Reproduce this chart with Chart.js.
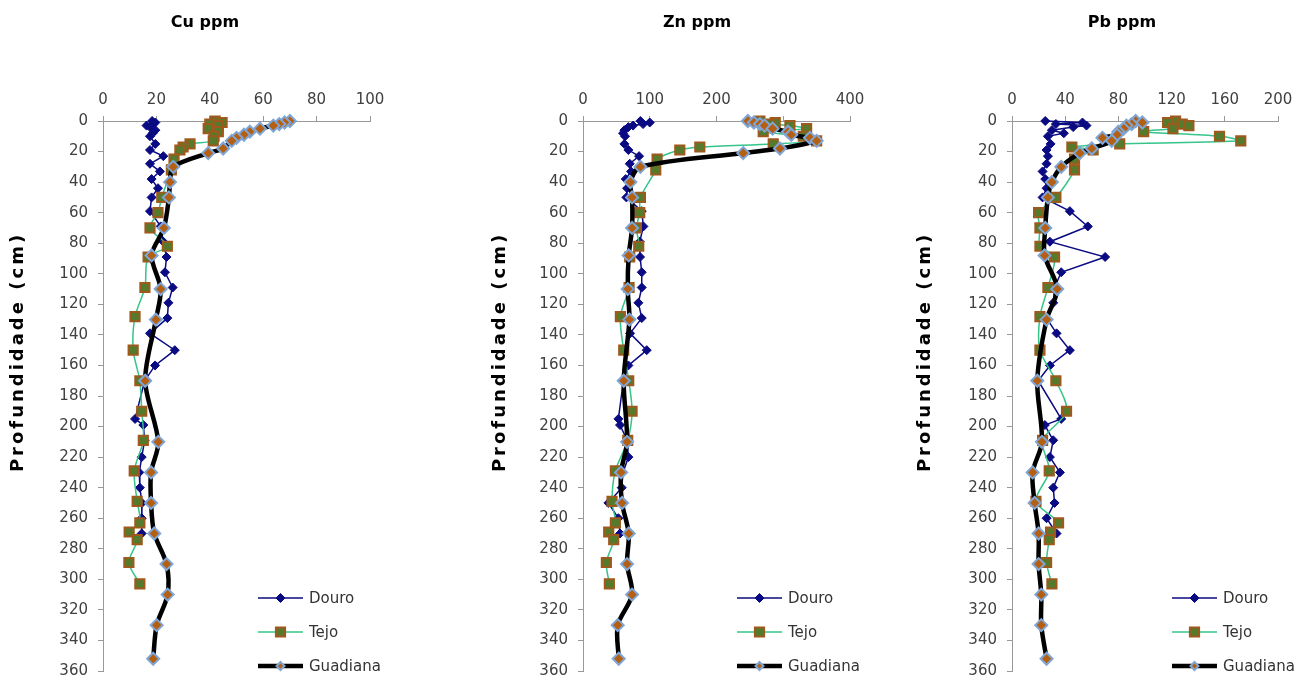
<!DOCTYPE html>
<html lang="pt">
<head>
    <meta charset="UTF-8">
    <title>Cu, Zn e Pb em profundidade</title>
    <script src="https://cdn.jsdelivr.net/npm/chart.js"></script>
    <style>
        body {
          margin: 0;
          width: 1296px;
          height: 690px;
          overflow: hidden;
          position: relative;
          background: #fff;
        }
        canvas {
          position: absolute;
          top: 0;
        }
    </style>
</head>
<body>
    <canvas id="cuChart" width="410" height="690" style="left:0px"></canvas>
    <canvas id="znChart" width="434" height="690" style="left:480px"></canvas>
    <canvas id="pbChart" width="426" height="690" style="left:909px"></canvas>
    <script>
        // Douro profile
        const douroDepth = [0, 1, 2, 3, 4, 6, 8, 10, 15, 19, 23, 28, 33, 38, 44, 50, 59, 69, 79, 89, 99, 109, 119, 129, 139, 150, 160, 170, 195, 199, 209, 220, 230, 240, 250, 260, 270];
        const douroCu = [18.4, 19.6, 18.6, 16.3, 17.6, 19.6, 18.6, 17.6, 19.6, 17.6, 22.6, 17.6, 21.3, 18.2, 20.6, 18.2, 17.6, 21.6, 22.6, 23.8, 23.2, 26.1, 24.5, 24.1, 17.6, 26.9, 19.5, 15.6, 12, 15.1, 15.6, 14.5, 13.6, 13.8, 14.6, 14.5, 14.5];
        const douroZn = [86, 100, 90, 75, 68, 62, 60, 63, 62, 68, 84, 70, 72, 64, 66, 65, 88, 90.5, 85, 85.5, 88, 88, 83, 88, 70.5, 95.5, 68, 60.5, 53, 55.5, 66, 68, 60, 58, 38, 53, 55.5];
        const douroPb = [25, 53, 33, 56, 46, 30, 39, 27, 29, 26, 27, 26, 23, 25, 26, 23, 43.5, 57, 28.5, 70, 37, 32, 31, 26, 33.5, 43.5, 28.5, 19.7, 37, 24.7, 31, 28.5, 36, 31, 32, 26, 33.5];

        // Tejo profile
        const tejoDepth = [0, 1, 2, 3, 5, 7, 10, 13, 15, 17, 19, 25, 32, 50, 60, 70, 82, 89, 109, 128, 150, 170, 190, 209, 229, 249, 263, 269, 274, 289, 303];
        const tejoCu = [42, 44.6, 40, 43.2, 39.4, 43.2, 41.6, 41.3, 32.6, 30, 28.8, 26.6, 25.6, 22, 20.6, 17.6, 24.1, 16.9, 15.7, 12, 11.3, 13.8, 14.5, 15.1, 11.7, 12.8, 13.8, 9.8, 12.8, 9.7, 13.8];
        const tejoZn = [265, 288, 280, 310, 335, 270, 330, 350, 285, 175, 145, 111, 109, 86, 85, 80, 83.5, 70, 69, 56, 61, 68.5, 73.5, 67, 48.5, 43.5, 48.5, 38.5, 46, 35, 39.5];
        const tejoPb = [123, 117, 128, 133, 121, 99, 156, 172, 81, 45, 61, 47, 47, 33, 20, 21, 21, 32, 27, 21, 21, 33, 41, 23, 28, 18, 35, 29, 28, 26, 30];

        // Guadiana profile
        const guadDepth = [0, 1, 2, 3, 5, 7, 9, 11, 13, 18, 21, 30, 40, 50, 70, 88, 110, 130, 170, 210, 230, 250, 270, 290, 310, 330, 352];
        const guadCu = [70, 68, 66, 63.8, 58.8, 55, 52.8, 50, 48.2, 45, 39.4, 26.3, 25.1, 24.7, 22.8, 18.2, 21.6, 19.8, 15.8, 20.7, 18, 18, 19.2, 23.8, 24.2, 20.1, 18.8];
        const guadZn = [247, 256, 265, 272, 284, 307, 312, 340, 350, 295, 240, 86, 71, 73.5, 73.5, 68.5, 67, 69.5, 61, 66, 57, 58.5, 68.5, 66, 73.5, 52, 53.5];
        const guadPb = [93, 98, 90, 86, 84, 80, 79, 68, 75, 60, 51, 37, 30, 27, 25, 24.5, 34, 26, 19, 22.5, 15.5, 17, 20, 20, 22, 22, 26];

        // Axis setup
        const depthTicks = { min: 0, max: 360, step: 20 };
        const cuAxis = { max: 100, step: 20 };
        const znAxis = { max: 400, step: 100 };
        const pbAxis = { max: 200, step: 40 };

        const legendNames = ['Douro', 'Tejo', 'Guadiana'];
        const tickFont = { family: 'DejaVu Sans', size: 15 };

        function pts(depth, vals) {
            return depth.map((d, i) => ({ x: vals[i], y: d }));
        }

        function drawMarker(ctx, style, x, y, r, fill, stroke, bw) {
            ctx.beginPath();
            if (style === 'rect') {
                const s = r * Math.SQRT1_2;
                ctx.rect(x - s, y - s, 2 * s, 2 * s);
            } else {
                ctx.moveTo(x, y - r);
                ctx.lineTo(x + r, y);
                ctx.lineTo(x, y + r);
                ctx.lineTo(x - r, y);
                ctx.closePath();
            }
            ctx.fillStyle = fill;
            ctx.fill();
            if (bw > 0) {
                ctx.lineWidth = bw;
                ctx.strokeStyle = stroke;
                ctx.stroke();
            }
        }

        // chart title, y axis title and the legend inside the plot
        const extras = {
            id: 'extras',
            afterDraw(chart, args, opts) {
                const ctx = chart.ctx;
                const area = chart.chartArea;

                ctx.save();
                ctx.font = 'bold 16px "DejaVu Sans"';
                ctx.fillStyle = '#000';
                ctx.textAlign = 'center';
                ctx.textBaseline = 'middle';
                ctx.fillText(opts.title, opts.headX, 23);
                ctx.restore();

                ctx.save();
                ctx.font = 'bold 18px "DejaVu Sans"';
                ctx.letterSpacing = '3px';
                ctx.fillStyle = '#000';
                ctx.textAlign = 'center';
                ctx.textBaseline = 'middle';
                ctx.translate(opts.titleX, opts.titleY);
                ctx.rotate(-Math.PI / 2);
                ctx.fillText('Profundidade (cm)', 0, 0);
                ctx.restore();

                const rows = [598, 632, 666];
                const sets = [...chart.data.datasets].sort((a, b) => legendNames.indexOf(a.label) - legendNames.indexOf(b.label));
                sets.forEach((ds, i) => {
                    const x0 = area.left + opts.legendX;
                    const x1 = x0 + 45;
                    const y = rows[i];
                    ctx.save();
                    ctx.strokeStyle = ds.borderColor;
                    ctx.lineWidth = ds.borderWidth;
                    ctx.beginPath();
                    ctx.moveTo(x0, y);
                    ctx.lineTo(x1, y);
                    ctx.stroke();
                    const r = ds.label === 'Guadiana' ? 4 : ds.pointRadius;
                    drawMarker(ctx, ds.pointStyle, (x0 + x1) / 2, y, r, ds.pointBackgroundColor, ds.pointBorderColor, ds.pointBorderWidth);
                    ctx.font = '15px "DejaVu Sans"';
                    ctx.fillStyle = '#333';
                    ctx.textAlign = 'left';
                    ctx.textBaseline = 'middle';
                    ctx.fillText(ds.label, x1 + 6, y + 1);
                    ctx.restore();
                });
            }
        };

        function makeChart(id, axis, douro, tejo, guad, extraOpts, rightPad) {
            const ctx = document.getElementById(id).getContext('2d');
            return new Chart(ctx, {
                type: 'scatter',
                data: {
                    datasets: [{
                        label: 'Douro',
                        data: pts(douroDepth, douro),
                        showLine: true,
                        borderColor: '#0a0a82',
                        borderWidth: 1.5,
                        pointStyle: 'rectRot',
                        pointRadius: 4.5,
                        pointBackgroundColor: '#0a0a82',
                        pointBorderColor: '#0a0a82',
                        pointBorderWidth: 1,
                        tension: 0,
                        clip: false,
                        order: 3
                    }, {
                        label: 'Tejo',
                        data: pts(tejoDepth, tejo),
                        showLine: true,
                        borderColor: '#35c48a',
                        borderWidth: 1.5,
                        pointStyle: 'rect',
                        pointRadius: 6.5,
                        pointBackgroundColor: '#557a2c',
                        pointBorderColor: '#a0591d',
                        pointBorderWidth: 2,
                        tension: 0.3,
                        clip: false,
                        order: 2
                    }, {
                        label: 'Guadiana',
                        data: pts(guadDepth, guad),
                        showLine: true,
                        borderColor: '#000000',
                        borderWidth: 4.5,
                        pointStyle: 'rectRot',
                        pointRadius: 6,
                        pointBackgroundColor: '#b45f12',
                        pointBorderColor: '#7fa6d6',
                        pointBorderWidth: 2,
                        tension: 0.3,
                        clip: false,
                        order: 1
                    }]
                },
                options: {
                    responsive: false,
                    animation: false,
                    layout: { padding: { left: 0, right: rightPad, top: 0, bottom: 0 } },
                    plugins: {
                        legend: { display: false },
                        tooltip: { enabled: false },
                        title: { display: false },
                        extras: extraOpts
                    },
                    scales: {
                        x: {
                            type: 'linear',
                            position: 'top',
                            min: 0,
                            max: axis.max,
                            ticks: { stepSize: axis.step, color: '#404040', font: tickFont, padding: 7 },
                            grid: { drawOnChartArea: false, tickLength: 5, color: '#999' },
                            border: { color: '#999', width: 1 },
                            afterFit(s) { s.height = 121; }
                        },
                        y: {
                            type: 'linear',
                            reverse: true,
                            min: depthTicks.min,
                            max: depthTicks.max,
                            ticks: { stepSize: depthTicks.step, color: '#404040', font: tickFont, padding: 10 },
                            grid: { drawOnChartArea: false, tickLength: 5, color: '#999' },
                            border: { color: '#999', width: 1 },
                            afterFit(s) { s.width = 103; }
                        }
                    }
                },
                plugins: [extras]
            });
        }

        makeChart('cuChart', cuAxis, douroCu, tejoCu, guadCu, { title: 'Cu ppm', headX: 205, titleX: 18, titleY: 352, legendX: 155 }, 40);
        makeChart('znChart', znAxis, douroZn, tejoZn, guadZn, { title: 'Zn ppm', headX: 217, titleX: 20, titleY: 352, legendX: 154 }, 64);
        makeChart('pbChart', pbAxis, douroPb, tejoPb, guadPb, { title: 'Pb ppm', headX: 213, titleX: 16, titleY: 352, legendX: 160 }, 57);
    </script>
</body>
</html>
